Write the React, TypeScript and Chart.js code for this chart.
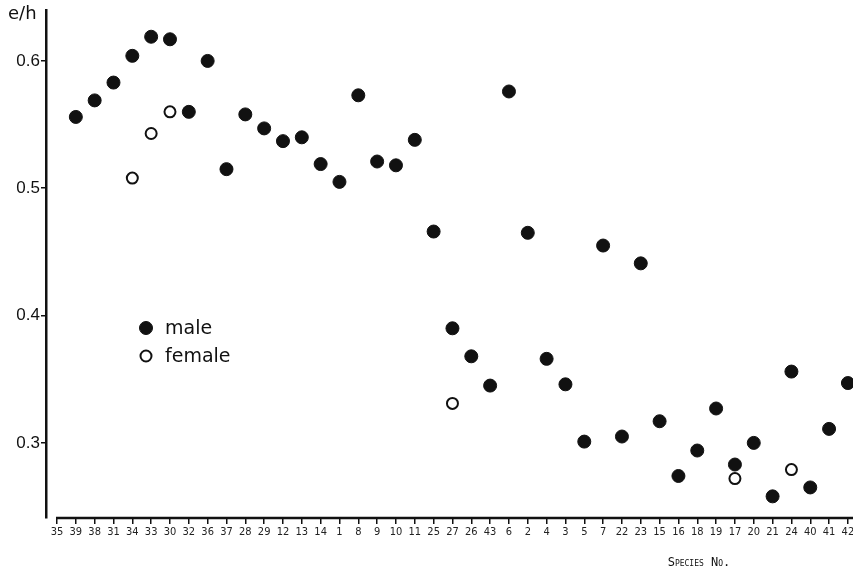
import React, { useEffect, useRef } from 'react';
import { Chart, registerables } from 'chart.js';

Chart.register(...registerables);

const speciesLabels = [
  '35', '39', '38', '31', '34', '33', '30', '32', '36', '37',
  '28', '29', '12', '13', '14', '1', '8', '9', '10', '11',
  '25', '27', '26', '43', '6', '2', '4', '3', '5', '7',
  '22', '23', '15', '16', '18', '19', '17', '20', '21', '24',
  '40', '41', '42',
];

const maleValues: (number | null)[] = [
  null, 0.556, 0.569, 0.583, 0.604, 0.619, 0.617, 0.560, 0.600, 0.515,
  0.558, 0.547, 0.537, 0.540, 0.519, 0.505, 0.573, 0.521, 0.518, 0.538,
  0.466, 0.390, 0.368, 0.345, 0.576, 0.465, 0.366, 0.346, 0.301, 0.455,
  0.305, 0.441, 0.317, 0.274, 0.294, 0.327, 0.283, 0.300, 0.258, 0.356,
  0.265, 0.311, 0.347,
];

const femaleValues: (number | null)[] = [
  null, null, null, null, 0.508, 0.543, 0.560, null, null, null,
  null, null, null, null, null, null, null, null, null, null,
  null, 0.331, null, null, null, null, null, null, null, null,
  null, null, null, null, null, null, 0.272, null, null, 0.279,
  null, null, null,
];

const yTickValues = [0.3, 0.4, 0.5, 0.6];
const yTickLabels = ['0.3', '0.4', '0.5', '0.6'];
const seriesNames = ['male', 'female'];
const yAxisTitle = 'e/h';
const xAxisTitle = 'Species No.';

const INK = '#111111';

function toPoints(values: (number | null)[]) {
  const pts: { x: number; y: number }[] = [];
  values.forEach((v, i) => {
    if (v !== null) pts.push({ x: i, y: v });
  });
  return pts;
}

const decorPlugin = {
  id: 'decor',
  afterDraw(chart: any) {
    const { ctx, chartArea, scales } = chart;
    ctx.save();
    // x axis base line (starts at first tick, detached from y axis)
    const x0 = scales.x.getPixelForValue(0);
    ctx.strokeStyle = INK;
    ctx.lineWidth = 2.5;
    ctx.beginPath();
    ctx.moveTo(x0 - 1, chartArea.bottom);
    ctx.lineTo(chartArea.right, chartArea.bottom);
    ctx.stroke();

    // y axis title
    ctx.fillStyle = INK;
    ctx.font = '18px "DejaVu Sans", sans-serif';
    ctx.textBaseline = 'middle';
    ctx.textAlign = 'left';
    ctx.fillText(yAxisTitle, 8, 14);

    // x axis title (small caps)
    ctx.font = '12px "DejaVu Sans Mono", "DejaVu Sans", sans-serif';
    try { (ctx as any).fontVariantCaps = 'small-caps'; } catch (e) {}
    ctx.textAlign = 'center';
    ctx.fillText(xAxisTitle, 699, 563);
    try { (ctx as any).fontVariantCaps = 'normal'; } catch (e) {}

    // legend
    const ds = chart.data.datasets;
    const lx = 146;
    const ly = [328, 356];
    ds.forEach((d: any, i: number) => {
      ctx.beginPath();
      ctx.arc(lx, ly[i], d.pointRadius, 0, Math.PI * 2);
      ctx.fillStyle = d.pointBackgroundColor;
      ctx.fill();
      ctx.lineWidth = d.pointBorderWidth;
      ctx.strokeStyle = d.pointBorderColor;
      ctx.stroke();
      ctx.fillStyle = INK;
      ctx.font = '19px "DejaVu Sans", sans-serif';
      ctx.textAlign = 'left';
      ctx.textBaseline = 'middle';
      ctx.fillText(d.label, 165, ly[i] + 1);
    });
    ctx.restore();
  },
};

export default function App() {
  const canvasRef = useRef<HTMLCanvasElement | null>(null);

  useEffect(() => {
    if (!canvasRef.current) return;
    const chart = new Chart(canvasRef.current, {
      type: 'scatter',
      data: {
        datasets: [
          {
            label: seriesNames[0],
            data: toPoints(maleValues),
            pointRadius: 6.5,
            pointBackgroundColor: INK,
            pointBorderColor: INK,
            pointBorderWidth: 1,
            showLine: false,
          },
          {
            label: seriesNames[1],
            data: toPoints(femaleValues),
            pointRadius: 5.5,
            pointBackgroundColor: '#ffffff',
            pointBorderColor: INK,
            pointBorderWidth: 2,
            showLine: false,
          },
        ],
      },
      options: {
        animation: false,
        responsive: false,
        layout: { autoPadding: false, padding: { top: 10, left: 0, right: 0, bottom: 0 } },
        plugins: {
          legend: { display: false },
          tooltip: { enabled: false },
        },
        scales: {
          x: {
            type: 'linear',
            min: -0.584,
            max: 42.27,
            afterBuildTicks: (scale: any) => {
              scale.ticks = speciesLabels.map((_, i) => ({ value: i }));
            },
            afterFit: (scale: any) => {
              scale.height = 56;
              scale.paddingLeft = 0;
              scale.paddingRight = 0;
            },
            border: { display: false },
            grid: {
              drawOnChartArea: false,
              drawTicks: true,
              tickLength: 6,
              color: INK,
              lineWidth: 1.5,
            },
            ticks: {
              autoSkip: false,
              maxRotation: 0,
              minRotation: 0,
              padding: 2,
              color: '#222',
              font: { family: '"DejaVu Sans Condensed", "Liberation Sans Narrow", sans-serif', size: 11 },
              callback: (_v: any, i: number) => speciesLabels[i] ?? '',
            },
          },
          y: {
            type: 'linear',
            min: 0.241,
            max: 0.64,
            afterBuildTicks: (scale: any) => {
              scale.ticks = yTickValues.map((v) => ({ value: v }));
            },
            afterFit: (scale: any) => {
              scale.width = 46;
              scale.paddingTop = 0;
              scale.paddingBottom = 0;
            },
            border: { display: true, color: INK, width: 2.5 },
            grid: {
              drawOnChartArea: false,
              drawTicks: true,
              tickLength: 5,
              color: INK,
              lineWidth: 1.5,
            },
            ticks: {
              padding: 1,
              color: INK,
              font: { family: '"Liberation Sans", sans-serif', size: 17 },
              callback: (_v: any, i: number) => yTickLabels[i] ?? '',
            },
          },
        },
      },
      plugins: [decorPlugin],
    } as any);
    return () => chart.destroy();
  }, []);

  return (
    <div style={{ position: 'absolute', left: 0, top: 0, width: 853, height: 574, background: '#fff' }}>
      <canvas ref={canvasRef} width={853} height={574} />
    </div>
  );
}
